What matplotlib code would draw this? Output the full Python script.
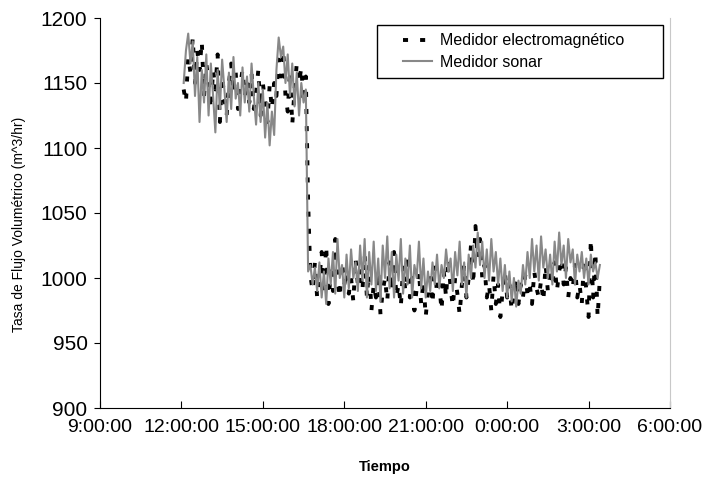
import numpy as np
import matplotlib
matplotlib.use("Agg")
import matplotlib.pyplot as plt
from matplotlib.legend_handler import HandlerLine2D

plt.rcParams['font.family'] = ['Liberation Sans', 'DejaVu Sans']

# time axis: hours after 9:00:00, samples every 5 min starting 12:05
start_hours = 3 + 5 / 60
step_minutes = 5

x_tick_labels = ['9:00:00', '12:00:00', '15:00:00', '18:00:00', '21:00:00',
                 '0:00:00', '3:00:00', '6:00:00']
y_ticks = [900, 950, 1000, 1050, 1100, 1150, 1200]

# Medidor sonar (gray line)
sonar_high = [1150, 1175, 1188, 1165, 1182, 1140, 1170, 1120, 1160, 1135, 1172,
              1125, 1165, 1140, 1112, 1160, 1130, 1168, 1145, 1120, 1158, 1130, 1170,
              1138, 1150, 1125, 1162, 1135, 1155, 1128, 1165, 1140, 1118, 1150, 1120,
              1145, 1108, 1135, 1102, 1128, 1110, 1160, 1185, 1170, 1178, 1150, 1172,
              1140, 1165, 1132, 1158, 1125, 1150, 1135, 1145]
sonar_low = [1005, 1010, 995, 1008,
             990, 1012, 985, 1005, 980, 1015, 995, 1020, 988, 1030, 1000, 1010,
             985, 1018, 992, 1022, 1000, 1012, 990, 1025, 998, 1030, 985, 1020,
             995, 1028, 990, 1015, 982, 1025, 1000, 1032, 992, 1020, 985, 1018,
             998, 1030, 988, 1015, 995, 1025, 985, 1010, 1000, 1028, 992, 1015,
             985, 1005, 990, 1012, 995, 1018, 992, 1010, 1000, 1022, 1005, 1015,
             990, 1020, 1002, 1028, 995, 1012, 985, 1018, 1000, 1025, 1008, 1035,
             1010, 1028, 1000, 1022, 998, 1030, 1005, 1020, 995, 1015, 990, 1010,
             985, 1005, 982, 1000, 978, 998, 988, 1010, 995, 1020, 1000, 1030,
             1005, 1025, 998, 1032, 1008, 1022, 1000, 1018, 995, 1028, 1005, 1035,
             1010, 1025, 1000, 1030, 1012, 1022, 995, 1018, 1005, 1020, 1000, 1015,
             995, 1018, 1005, 1012, 1000, 1010]

# Medidor electromagnético (black dashes)
electro_high = [1145, 1135, 1170, 1158, 1185, 1150, 1175, 1160, 1182, 1140, 1165,
                1150, 1130, 1160, 1145, 1172, 1120, 1155, 1138, 1125, 1150, 1165, 1142,
                1158, 1130, 1148, 1160, 1140, 1152, 1135, 1158, 1130, 1142, 1160, 1125,
                1150, 1135, 1120, 1148, 1130, 1150, 1140, 1168, 1155, 1175, 1140, 1128,
                1160, 1118, 1145, 1165, 1150, 1162, 1135, 1155]
electro_low = [1060, 1002, 990, 1012,
               985, 998, 1020, 992, 1025, 980, 1005, 990, 1030, 998, 985, 1012,
               995, 1005, 988, 1000, 982, 1015, 995, 1008, 990, 1018, 985, 1010,
               975, 995, 985, 1005, 972, 990, 1000, 982, 1012, 990, 1020, 985,
               995, 978, 1008, 990, 1018, 985, 1000, 975, 992, 1005, 980, 998,
               970, 990, 1000, 980, 1010, 988, 995, 975, 1005, 985, 1015, 992,
               978, 1000, 988, 972, 995, 1010, 985, 1000, 1025, 995, 1040, 1015,
               1030, 1000, 1010, 985, 995, 975, 1002, 980, 995, 970, 990, 1005,
               985, 995, 975, 990, 1000, 980, 995, 985, 1002, 988, 995, 980,
               1005, 992, 985, 998, 982, 1010, 990, 1002, 995, 1012, 990, 1005,
               1015, 995, 1008, 985, 1000, 992, 1010, 985, 995, 980, 1015, 990,
               970, 1030, 985, 1020, 970, 1000]

sonar = sonar_high + sonar_low
electro = electro_high + electro_low
t = start_hours + np.arange(len(sonar)) * step_minutes / 60.0

fig = plt.figure(figsize=(7.02, 4.78), dpi=100)
ax = fig.add_axes([100 / 702, 70 / 478, 570 / 702, 390 / 478])

ax.plot(t, electro, color='black', lw=2.8, linestyle=(0, (1.3, 3.1)),
        dash_capstyle='butt', label='Medidor electromagnético', zorder=2)
ax.plot(t, sonar, color='#888888', lw=1.5, label='Medidor sonar', zorder=3)

ax.set_xlim(0, 21)
ax.set_ylim(900, 1200)
ax.set_xticks(np.arange(0, 22, 3))
ax.set_xticklabels(x_tick_labels)
ax.set_yticks(y_ticks)
ax.tick_params(axis='x', direction='in', length=5, width=0.8, pad=8, labelsize=14)
ax.tick_params(axis='y', direction='out', length=4, width=0.8, pad=5, labelsize=15)

ax.spines['top'].set_visible(False)
ax.spines['right'].set_color('#c8c8c8')
ax.spines['left'].set_linewidth(0.8)
ax.spines['bottom'].set_linewidth(0.8)

ax.set_xlabel('Tiempo', fontsize=10.5, fontweight='bold')
ax.xaxis.set_label_coords(0.5, -0.133)
ax.set_ylabel('Tasa de Flujo Volumétrico (m^3/hr)', fontsize=10)
ax.yaxis.set_label_coords(-0.130, 0.472)

fs = 11.5
leg = ax.legend(loc='upper left', bbox_to_anchor=(0.486, 0.0, 0.502, 0.982),
                mode='expand', borderaxespad=0,
                fancybox=False, framealpha=1, edgecolor='black', fontsize=fs,
                handlelength=4.03, handletextpad=-0.61, labelspacing=0.41,
                borderpad=0.52,
                handler_map={matplotlib.lines.Line2D: HandlerLine2D(numpoints=2, marker_pad=1.11)})
leg.get_frame().set_linewidth(1.0)

fig.savefig('out.png', dpi=100)
